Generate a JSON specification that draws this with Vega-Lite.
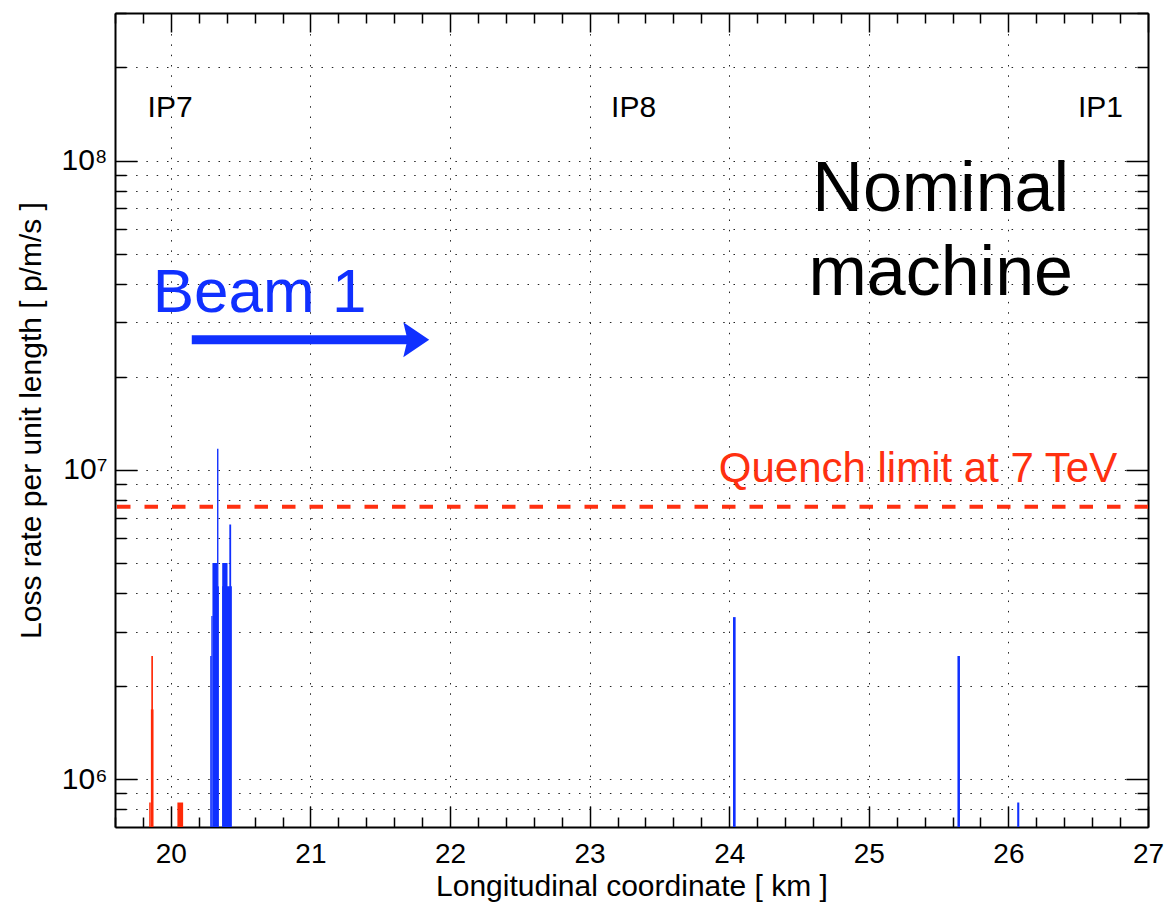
{
  "$schema": "https://vega.github.io/schema/vega-lite/v6.json",
  "width": 1033,
  "height": 814,
  "autosize": "none",
  "padding": {"left": 115, "top": 13, "right": 20, "bottom": 77},
  "background": "white",
  "config": {
    "view": {"stroke": null},
    "font": "Liberation Sans",
    "axis": {"labelFont": "Liberation Sans", "titleFont": "Liberation Sans"}
  },
  "datasets": {
    "spikes": [
      {"start": 19.845, "end": 19.856, "rate": 840000, "section": "warm"},
      {"start": 19.857, "end": 19.876, "rate": 1680000, "section": "warm"},
      {"start": 19.860, "end": 19.872, "rate": 2500000, "section": "warm"},
      {"start": 20.047, "end": 20.088, "rate": 840000, "section": "warm"},
      {"start": 20.282, "end": 20.292, "rate": 2500000, "section": "cold"},
      {"start": 20.290, "end": 20.299, "rate": 3370000, "section": "cold"},
      {"start": 20.298, "end": 20.331, "rate": 5000000, "section": "cold"},
      {"start": 20.329, "end": 20.344, "rate": 4200000, "section": "cold"},
      {"start": 20.331, "end": 20.341, "rate": 11700000, "section": "cold"},
      {"start": 20.368, "end": 20.406, "rate": 5000000, "section": "cold"},
      {"start": 20.368, "end": 20.437, "rate": 4200000, "section": "cold"},
      {"start": 20.419, "end": 20.432, "rate": 6650000, "section": "cold"},
      {"start": 24.027, "end": 24.046, "rate": 3340000, "section": "cold"},
      {"start": 25.635, "end": 25.653, "rate": 2500000, "section": "cold"},
      {"start": 26.063, "end": 26.078, "rate": 840000, "section": "cold"}
    ],
    "ips": [
      {"ip": "IP7", "km": 19.995},
      {"ip": "IP8", "km": 23.315},
      {"ip": "IP1", "km": 26.659}
    ],
    "one": [{}]
  },
  "layer": [
    {
      "data": {"name": "spikes"},
      "mark": {"type": "rect", "strokeWidth": 0},
      "encoding": {
        "x": {
          "field": "start", "type": "quantitative",
          "scale": {"domain": [19.6, 27], "nice": false, "zero": false},
          "axis": {
            "orient": "bottom",
            "values": [19.6, 19.8, 20, 20.2, 20.4, 20.6, 20.8, 21, 21.2, 21.4, 21.6, 21.8, 22, 22.2, 22.4, 22.6, 22.8, 23, 23.2, 23.4, 23.6, 23.8, 24, 24.2, 24.4, 24.6, 24.8, 25, 25.2, 25.4, 25.6, 25.8, 26, 26.2, 26.4, 26.6, 26.8, 27],
            "labelExpr": "abs(datum.value - round(datum.value)) < 0.001 ? format(datum.value, 'd') : ''",
            "labelFontSize": 28,
            "labelColor": "black",
            "labelPadding": 34,
            "labelFlush": false,
            "labelOverlap": false,
            "labelBound": false,
            "tickSize": {"condition": {"test": "abs(datum.value - round(datum.value)) < 0.001", "value": -21}, "value": -10},
            "tickColor": "black",
            "tickWidth": 1.5,
            "grid": true,
            "gridColor": "#222222",
            "gridWidth": 1,
            "gridDash": [1.5, 8.8],
            "gridOpacity": {"condition": {"test": "abs(datum.value - round(datum.value)) < 0.001", "value": 1}, "value": 0},
            "domainColor": "black",
            "domainWidth": 2,
            "title": "Longitudinal coordinate [ km ]",
            "titleFontSize": 30,
            "titleFontWeight": "normal",
            "titleColor": "black",
            "titlePadding": -8
          }
        },
        "x2": {"field": "end"},
        "y": {
          "field": "rate", "type": "quantitative",
          "scale": {"type": "log", "domain": [700000, 300000000], "nice": false},
          "axis": {
            "orient": "left",
            "values": [800000, 900000, 1000000, 2000000, 3000000, 4000000, 5000000, 6000000, 7000000, 8000000, 9000000, 10000000, 20000000, 30000000, 40000000, 50000000, 60000000, 70000000, 80000000, 90000000, 100000000, 200000000, 300000000],
            "labelExpr": "datum.value == 1000000 ? '10⁶' : datum.value == 10000000 ? '10⁷' : datum.value == 100000000 ? '10⁸' : ''",
            "labelFontSize": 30,
            "labelColor": "black",
            "labelPadding": 30,
            "labelFlush": false,
            "labelOverlap": false,
            "labelBound": false,
            "labelBaseline": "middle",
            "tickSize": {"condition": {"test": "datum.value == 1000000 || datum.value == 10000000 || datum.value == 100000000", "value": -22}, "value": -11},
            "tickColor": "black",
            "tickWidth": 1.5,
            "grid": true,
            "gridColor": "#222222",
            "gridWidth": 1,
            "gridDash": [1.5, 8.8],
            "domainColor": "black",
            "domainWidth": 2,
            "title": "Loss rate per unit length [ p/m/s ]",
            "titleFontSize": 30,
            "titleFontWeight": "normal",
            "titleColor": "black",
            "titlePadding": 14
          }
        },
        "y2": {"datum": 700000},
        "color": {
          "field": "section", "type": "nominal",
          "scale": {"domain": ["cold", "warm"], "range": ["#1030ff", "#ff2a08"]},
          "legend": null
        }
      }
    },
    {
      "data": {"name": "ips"},
      "mark": {"type": "text", "fontSize": 30, "align": "center", "baseline": "alphabetic", "color": "black"},
      "encoding": {
        "x": {
          "field": "km", "type": "quantitative",
          "axis": {
            "orient": "top",
            "values": [19.6, 19.8, 20, 20.2, 20.4, 20.6, 20.8, 21, 21.2, 21.4, 21.6, 21.8, 22, 22.2, 22.4, 22.6, 22.8, 23, 23.2, 23.4, 23.6, 23.8, 24, 24.2, 24.4, 24.6, 24.8, 25, 25.2, 25.4, 25.6, 25.8, 26, 26.2, 26.4, 26.6, 26.8, 27],
            "labels": false,
            "grid": false,
            "tickSize": {"condition": {"test": "abs(datum.value - round(datum.value)) < 0.001", "value": -19}, "value": -10},
            "tickColor": "black",
            "tickWidth": 1.5,
            "domainColor": "black",
            "domainWidth": 2,
            "title": null
          }
        },
        "y": {"datum": 138000000, "type": "quantitative", "axis": null},
        "text": {"field": "ip"}
      }
    },
    {
      "data": {"name": "one"},
      "mark": {"type": "rule", "color": "#ff3010", "strokeWidth": 4, "strokeDash": [13.5, 14]},
      "encoding": {
        "y": {
          "datum": 7600000, "type": "quantitative",
          "axis": {
            "orient": "right",
            "values": [800000, 900000, 1000000, 2000000, 3000000, 4000000, 5000000, 6000000, 7000000, 8000000, 9000000, 10000000, 20000000, 30000000, 40000000, 50000000, 60000000, 70000000, 80000000, 90000000, 100000000, 200000000, 300000000],
            "labels": false,
            "grid": false,
            "tickSize": {"condition": {"test": "datum.value == 1000000 || datum.value == 10000000 || datum.value == 100000000", "value": -22}, "value": -11},
            "tickColor": "black",
            "tickWidth": 1.5,
            "domainColor": "black",
            "domainWidth": 2,
            "title": null
          }
        }
      }
    },
    {
      "data": {"name": "one"},
      "mark": {"type": "text", "text": "Quench limit at 7 TeV", "fontSize": 42, "align": "left", "baseline": "alphabetic", "color": "#ff3010"},
      "encoding": {
        "x": {"datum": 23.925, "type": "quantitative", "axis": null},
        "y": {"datum": 9120000, "type": "quantitative", "axis": null}
      }
    },
    {
      "data": {"name": "one"},
      "mark": {"type": "text", "text": ["Nominal", "machine"], "lineHeight": 84, "fontSize": 70, "align": "center", "baseline": "alphabetic", "color": "black"},
      "encoding": {
        "x": {"datum": 25.515, "type": "quantitative", "axis": null},
        "y": {"datum": 68620000, "type": "quantitative", "axis": null}
      }
    },
    {
      "data": {"name": "one"},
      "mark": {"type": "text", "text": "Beam 1", "fontSize": 62, "align": "left", "baseline": "alphabetic", "color": "#1030ff"},
      "encoding": {
        "x": {"datum": 19.87, "type": "quantitative", "axis": null},
        "y": {"datum": 32370000, "type": "quantitative", "axis": null}
      }
    },
    {
      "data": {"name": "one"},
      "mark": {"type": "rule", "color": "#1030ff", "strokeWidth": 9},
      "encoding": {
        "x": {"datum": 20.15, "type": "quantitative", "axis": null},
        "x2": {"datum": 21.70},
        "y": {"datum": 26330000, "type": "quantitative", "axis": null}
      }
    },
    {
      "data": {"name": "one"},
      "mark": {"type": "point", "shape": "M-0.74,-1L0.74,0L-0.74,1L-0.5,0Z", "size": 1225, "filled": true, "opacity": 1, "color": "#1030ff", "strokeWidth": 0},
      "encoding": {
        "x": {"datum": 21.758, "type": "quantitative", "axis": null},
        "y": {"datum": 26330000, "type": "quantitative", "axis": null}
      }
    }
  ],
  "resolve": {"axis": {"x": "independent", "y": "independent"}}
}
